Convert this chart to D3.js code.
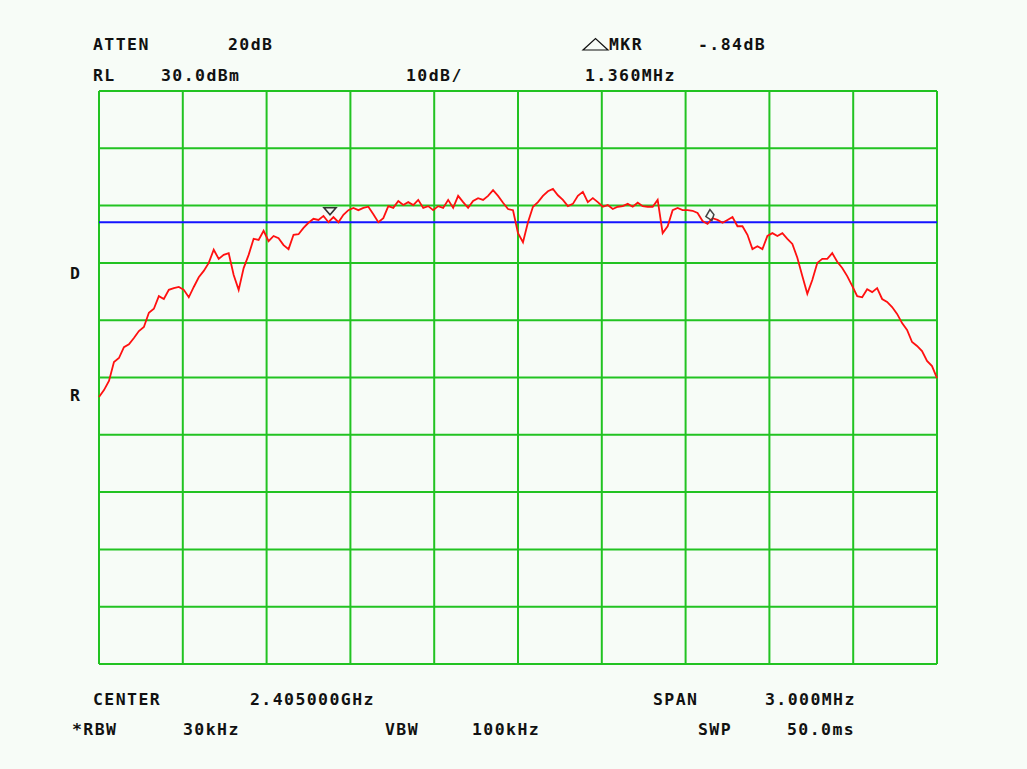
<!DOCTYPE html>
<html>
<head>
<meta charset="utf-8">
<script src="https://cdn.jsdelivr.net/npm/d3@7"></script>
<style>
  html, body { margin: 0; padding: 0; background: #f7fcf7; }
  svg { display: block; }
  .lbl { font-family: 'DejaVu Sans Mono', monospace; font-weight: bold; font-size: 15px; letter-spacing: 1.3px; fill: #111; }
</style>
</head>
<body>
<div id="chart"></div>
<script>
// analyzer settings
const centerGHz = 2.405;
const spanMHz = 3.0;
const refLevel = 30;      // dBm, top of screen
const dbPerDiv = 10;
const divisions = 10;
const displayLine = 7.1;  // dBm

// trace, evenly spaced across the span (dBm)
const traceLevels = [
  -23.4, -22.2, -20.6, -17.3, -16.6, -14.7, -14.2, -13.1, -11.9, -11.2,
  -8.7, -8.0, -5.8, -6.3, -4.7, -4.4, -4.2, -4.7, -6.0, -4.2,
  -2.5, -1.4, 0.0, 2.3, 0.7, 1.4, 1.7, -2.1, -4.7, -0.9,
  1.4, 4.2, 4.0, 5.6, 3.8, 4.7, 4.3, 3.1, 2.4, 4.9,
  5.0, 6.1, 7.0, 7.7, 7.5, 8.2, 7.1, 8.0, 7.1, 8.4,
  9.2, 9.6, 9.2, 9.6, 9.8, 8.5, 7.1, 7.8, 9.9, 9.6,
  10.8, 10.1, 10.6, 10.1, 11.0, 9.6, 9.9, 9.2, 9.9, 9.6,
  11.0, 9.6, 11.7, 10.6, 9.6, 10.8, 11.3, 11.0, 11.7, 12.7,
  11.7, 10.5, 9.4, 9.2, 5.2, 3.6, 7.1, 9.8, 10.6, 11.7,
  12.5, 12.9, 11.8, 11.0, 9.9, 10.3, 11.7, 12.4, 10.6, 11.3,
  10.6, 9.8, 10.1, 9.4, 9.8, 9.9, 10.3, 9.8, 10.5, 9.9,
  9.8, 9.8, 11.0, 5.2, 6.4, 9.2, 9.6, 9.2, 9.2, 9.1,
  8.7, 7.3, 6.8, 7.8, 7.5, 7.0, 7.5, 8.0, 6.4, 6.4,
  4.9, 2.4, 2.9, 2.4, 4.7, 5.2, 4.7, 5.2, 4.2, 3.3,
  0.9, -2.3, -5.4, -3.0, 0.0, 0.7, 0.7, 1.7, 0.2, -0.9,
  -2.3, -4.0, -5.8, -6.0, -4.6, -5.1, -4.4, -6.3, -6.8, -7.7,
  -8.9, -10.5, -11.7, -13.8, -14.5, -15.4, -17.1, -18.0, -20.1
];

// markers (offset from center in MHz)
const markerFreq = -0.673;
const markerLevel = 8.4;
const deltaFreq = 1.36;
const deltaDb = -0.84;

// screen annotations
const topRow1 = ['ATTEN', '20dB', 'MKR', '-.84dB'];
const topRow2 = ['RL', '30.0dBm', '10dB/', '1.360MHz'];
const botRow1 = ['CENTER', '2.405000GHz', 'SPAN', '3.000MHz'];
const botRow2 = ['*RBW', '30kHz', 'VBW', '100kHz', 'SWP', '50.0ms'];
const sideLabels = ['D', 'R'];

const W = 1027, H = 769;
const gLeft = 99, gRight = 937, gTop = 91, gBottom = 664;

const svg = d3.select('#chart').append('svg')
    .attr('width', W)
    .attr('height', H);

svg.append('rect')
    .attr('width', W).attr('height', H)
    .attr('fill', '#f7fcf7');

const x = d3.scaleLinear()
    .domain([-spanMHz / 2, spanMHz / 2])
    .range([gLeft, gRight]);

const y = d3.scaleLinear()
    .domain([refLevel - dbPerDiv * divisions, refLevel])
    .range([gBottom, gTop]);

// graticule
const xGrid = d3.range(divisions + 1).map(i => -spanMHz / 2 + i * spanMHz / divisions);
const yGrid = d3.range(divisions + 1).map(i => refLevel - i * dbPerDiv);

const grid = svg.append('g').attr('stroke', '#22c322').attr('stroke-width', 2);
grid.selectAll('line.v').data(xGrid).join('line')
    .attr('class', 'v')
    .attr('x1', d => x(d)).attr('x2', d => x(d))
    .attr('y1', gTop).attr('y2', gBottom);
grid.selectAll('line.h').data(yGrid).join('line')
    .attr('class', 'h')
    .attr('x1', gLeft).attr('x2', gRight)
    .attr('y1', d => y(d)).attr('y2', d => y(d));

// display line
svg.append('line')
    .attr('x1', gLeft).attr('x2', gRight)
    .attr('y1', y(displayLine)).attr('y2', y(displayLine))
    .attr('stroke', '#1414ff')
    .attr('stroke-width', 2);

// trace
const n = traceLevels.length;
const freqAt = i => -spanMHz / 2 + i * spanMHz / (n - 1);

const line = d3.line()
    .x((d, i) => x(freqAt(i)))
    .y(d => y(d));

svg.append('path')
    .datum(traceLevels)
    .attr('d', line)
    .attr('fill', 'none')
    .attr('stroke', '#ff1010')
    .attr('stroke-width', 1.8)
    .attr('stroke-linejoin', 'miter');

// reference marker (open triangle sitting on the trace)
svg.append('path')
    .attr('transform', `translate(${x(markerFreq)},${y(markerLevel)})`)
    .attr('d', 'M-6,-7L6,-7L0,0Z')
    .attr('fill', 'none')
    .attr('stroke', '#333')
    .attr('stroke-width', 1.6);

// delta marker (open diamond)
svg.append('path')
    .attr('transform', `translate(${x(markerFreq + deltaFreq)},${y(markerLevel + deltaDb) - 4})`)
    .attr('d', 'M0,-6L4,-1L2,5L-4,1Z')
    .attr('fill', 'none')
    .attr('stroke', '#444')
    .attr('stroke-width', 1.5);

// text, stretched a little to mimic the wide screen font
function label(txt, lx, ly) {
    svg.append('text').attr('class', 'lbl')
        .attr('transform', `translate(${lx},${ly}) scale(1.1,1)`)
        .text(txt);
}

label(topRow1[0], 93, 50);
label(topRow1[1], 228, 50);
svg.append('path')
    .attr('d', 'M583,50L608,50L595.5,38.5Z')
    .attr('fill', 'none')
    .attr('stroke', '#111')
    .attr('stroke-width', 1.2);
label(topRow1[2], 609, 50);
label(topRow1[3], 698, 50);

label(topRow2[0], 93, 81);
label(topRow2[1], 161, 81);
label(topRow2[2], 406, 81);
label(topRow2[3], 585, 81);

label(botRow1[0], 93, 705);
label(botRow1[1], 250, 705);
label(botRow1[2], 653, 705);
label(botRow1[3], 765, 705);

label(botRow2[0], 72, 735);
label(botRow2[1], 183, 735);
label(botRow2[2], 385, 735);
label(botRow2[3], 472, 735);
label(botRow2[4], 698, 735);
label(botRow2[5], 787, 735);

label(sideLabels[0], 70, 279);
label(sideLabels[1], 70, 401);
</script>
</body>
</html>
